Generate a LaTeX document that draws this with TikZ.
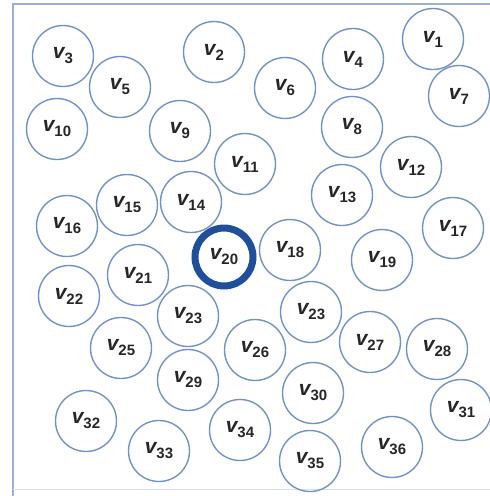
\documentclass[tikz,border=0pt]{standalone}
\usepackage{fontspec}
\setmainfont{Liberation Sans}
\definecolor{circblue}{HTML}{7391C4}
\definecolor{hubblue}{HTML}{1F4E9B}
\definecolor{framec}{HTML}{9AAED6}
\definecolor{labtext}{HTML}{262626}
\newcommand{\vlab}[1]{{\fontsize{21}{21}\selectfont\bfseries\itshape v}\raisebox{-5pt}{\fontsize{15}{15}\selectfont\bfseries #1}}
\begin{document}
\begin{tikzpicture}[x=1pt,y=-1pt,
  vert/.style={circle,draw=circblue,line width=1.4pt,minimum size=61pt,inner sep=0pt,text=labtext},
  hub/.style={circle,draw=hubblue,line width=7pt,minimum size=58pt,inner sep=0pt,text=labtext},
  framel/.style={draw=framec,line width=2pt}]
\useasboundingbox (0,0) rectangle (490,496);
\coordinate (f1) at (13,4);
\coordinate (f2) at (490,4);
\coordinate (f3) at (13,496);
\coordinate (f4) at (13,489);
\coordinate (f5) at (490,489);
\draw[framel] (f2) -- (f1) -- (f3);
\draw[draw=framec!40,line width=1pt] (f4) -- (f5);
\node[vert] (v1) at (433,39) {\vlab{1}};
\node[vert] (v2) at (214,52) {\vlab{2}};
\node[vert] (v3) at (63,56) {\vlab{3}};
\node[vert] (v4) at (353,59) {\vlab{4}};
\node[vert] (v5) at (120,87) {\vlab{5}};
\node[vert] (v6) at (285,88) {\vlab{6}};
\node[vert] (v7) at (459,96) {\vlab{7}};
\node[vert] (v8) at (352,127) {\vlab{8}};
\node[vert] (v9) at (180,131) {\vlab{9}};
\node[vert] (v10) at (57,129) {\vlab{10}};
\node[vert] (v11) at (245,164) {\vlab{11}};
\node[vert] (v12) at (411,167) {\vlab{12}};
\node[vert] (v13) at (342,195) {\vlab{13}};
\node[vert] (v14) at (191,202) {\vlab{14}};
\node[vert] (v15) at (127,205) {\vlab{15}};
\node[vert] (v16) at (67,226) {\vlab{16}};
\node[vert] (v17) at (453,228) {\vlab{17}};
\node[vert] (v18) at (290,250) {\vlab{18}};
\node[vert] (v19) at (382,260) {\vlab{19}};
\node[hub] (v20) at (224,257) {\vlab{20}};
\node[vert] (v21) at (138,275) {\vlab{21}};
\node[vert] (v22) at (69,296) {\vlab{22}};
\node[vert] (v23a) at (188,316) {\vlab{23}};
\node[vert] (v23b) at (311,312) {\vlab{23}};
\node[vert] (v25) at (121,348) {\vlab{25}};
\node[vert] (v26) at (255,350) {\vlab{26}};
\node[vert] (v27) at (370,342) {\vlab{27}};
\node[vert] (v28) at (437,349) {\vlab{28}};
\node[vert] (v29) at (188,380) {\vlab{29}};
\node[vert] (v30) at (313,393) {\vlab{30}};
\node[vert] (v31) at (461,410) {\vlab{31}};
\node[vert] (v32) at (86,421) {\vlab{32}};
\node[vert] (v33) at (159,451) {\vlab{33}};
\node[vert] (v34) at (240,430) {\vlab{34}};
\node[vert] (v35) at (310,461) {\vlab{35}};
\node[vert] (v36) at (392,447) {\vlab{36}};
\end{tikzpicture}
\end{document}
